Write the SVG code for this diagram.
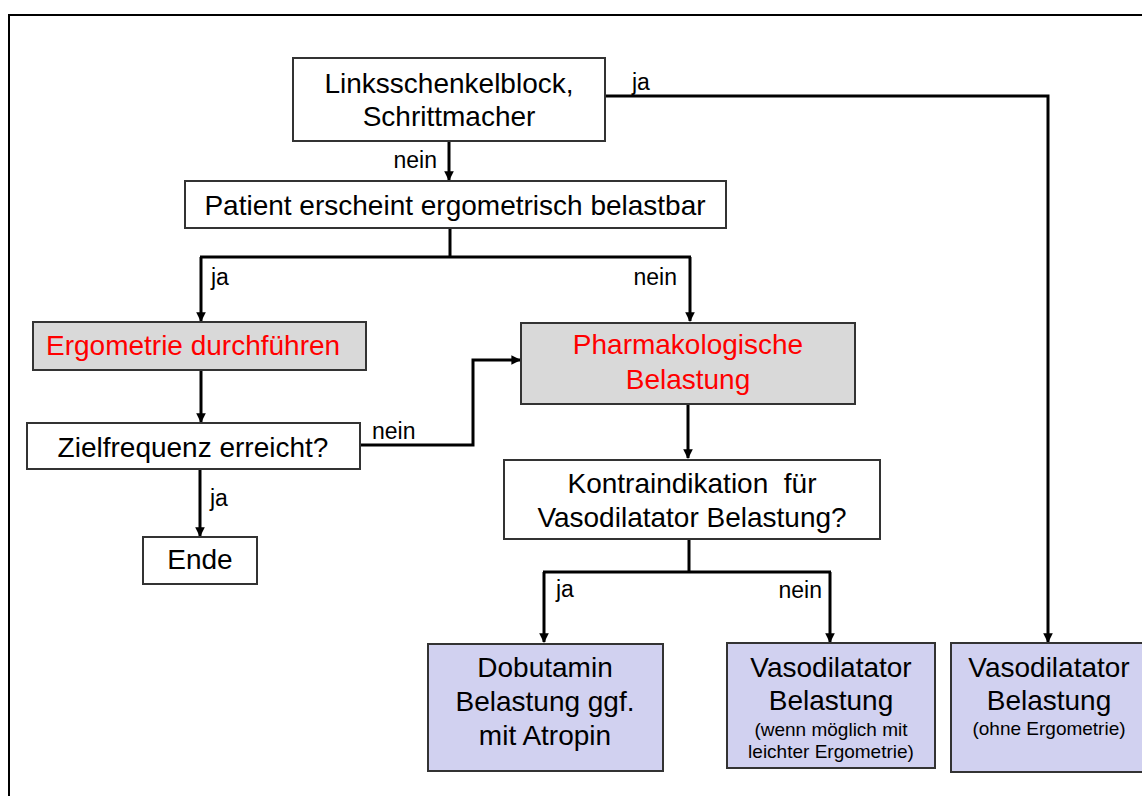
<svg xmlns="http://www.w3.org/2000/svg" width="1142" height="796" viewBox="0 0 1142 796">
<defs>
<style>
.box{stroke:#333;stroke-width:2;fill:#fff}
.grey{fill:#d9d9d9}
.lav{fill:#d1d1f0}
.t{font-family:"Liberation Sans",Arial,sans-serif;font-size:28px;fill:#000;text-anchor:middle}
.red{fill:#ff0000}
.st{text-anchor:start}
.s{font-family:"Liberation Sans",Arial,sans-serif;font-size:19px;fill:#000;text-anchor:middle}
.lbl{font-family:"Liberation Sans",Arial,sans-serif;font-size:23px;fill:#000}
.end{text-anchor:end}
.c{fill:none;stroke:#000;stroke-width:3}
</style>
<marker id="ah" viewBox="0 0 10 10" refX="9" refY="5" markerWidth="3.2" markerHeight="3.2" orient="auto" markerUnits="strokeWidth">
<path d="M0,0 L10,5 L0,10 z" fill="#000"/>
</marker>
</defs>
<rect x="0" y="0" width="1142" height="796" fill="#fff"/>
<rect x="9" y="15" width="1200" height="820" fill="none" stroke="#000" stroke-width="2"/>

<g id="connectors">
<path class="c" d="M449,141 V180" marker-end="url(#ah)"/>
<path class="c" d="M605,96 H1048 V642" marker-end="url(#ah)"/>
<path class="c" d="M450,228 V257"/>
<path class="c" d="M200,257 H691"/>
<path class="c" d="M201,257 V321" marker-end="url(#ah)"/>
<path class="c" d="M690,257 V321" marker-end="url(#ah)"/>
<path class="c" d="M201,370 V422" marker-end="url(#ah)"/>
<path class="c" d="M200,469 V536" marker-end="url(#ah)"/>
<path class="c" d="M360,445 H473 V360 H520" marker-end="url(#ah)"/>
<path class="c" d="M688,404 V458" marker-end="url(#ah)"/>
<path class="c" d="M689,539 V572"/>
<path class="c" d="M543,572 H831"/>
<path class="c" d="M544,572 V642" marker-end="url(#ah)"/>
<path class="c" d="M830,572 V642" marker-end="url(#ah)"/>
<text class="lbl" x="632" y="90">ja</text>
<text class="lbl end" x="437" y="168">nein</text>
<text class="lbl" x="211" y="285">ja</text>
<text class="lbl end" x="677" y="285">nein</text>
<text class="lbl" x="372" y="439">nein</text>
<text class="lbl" x="210" y="506">ja</text>
<text class="lbl" x="556" y="597">ja</text>
<text class="lbl end" x="822" y="598">nein</text>
</g>

<g id="n-lsb">
<rect class="box" x="293" y="58" width="312" height="83"/>
<text class="t" x="449" y="93">Linksschenkelblock,</text>
<text class="t" x="449" y="126">Schrittmacher</text>
</g>
<g id="n-patient">
<rect class="box" x="185" y="181" width="541" height="47"/>
<text class="t" x="455" y="215">Patient erscheint ergometrisch belastbar</text>
</g>
<g id="n-ergo">
<rect class="box grey" x="33" y="322" width="333" height="48"/>
<text class="t red st" x="46" y="355">Ergometrie durchführen</text>
</g>
<g id="n-ziel">
<rect class="box" x="27" y="423" width="333" height="46"/>
<text class="t" x="193" y="457">Zielfrequenz erreicht?</text>
</g>
<g id="n-ende">
<rect class="box" x="143" y="537" width="114" height="47"/>
<text class="t" x="200" y="569">Ende</text>
</g>
<g id="n-pharma">
<rect class="box grey" x="521" y="323" width="334" height="81"/>
<text class="t red" x="688" y="354">Pharmakologische</text>
<text class="t red" x="688" y="389">Belastung</text>
</g>
<g id="n-kontra">
<rect class="box" x="504" y="460" width="376" height="79"/>
<text class="t" x="692" y="493" xml:space="preserve">Kontraindikation  für</text>
<text class="t" x="692" y="527">Vasodilatator Belastung?</text>
</g>
<g id="n-dobut">
<rect class="box lav" x="428" y="644" width="235" height="127"/>
<text class="t" x="545" y="677">Dobutamin</text>
<text class="t" x="545" y="711">Belastung ggf.</text>
<text class="t" x="545" y="745">mit Atropin</text>
</g>
<g id="n-vaso1">
<rect class="box lav" x="727" y="643" width="208" height="125"/>
<text class="t" x="831" y="677">Vasodilatator</text>
<text class="t" x="831" y="710">Belastung</text>
<text class="s" x="831" y="736">(wenn möglich mit</text>
<text class="s" x="831" y="758">leichter Ergometrie)</text>
</g>
<g id="n-vaso2">
<rect class="box lav" x="951" y="643" width="220" height="129"/>
<text class="t" x="1049" y="677">Vasodilatator</text>
<text class="t" x="1049" y="710">Belastung</text>
<text class="s" x="1049" y="735">(ohne Ergometrie)</text>
</g>
</svg>
